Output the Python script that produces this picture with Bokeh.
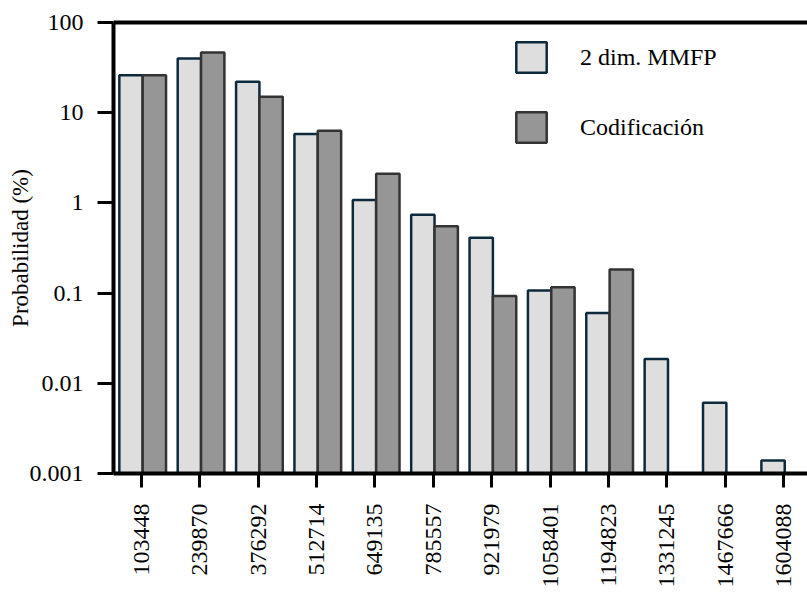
import math
from bokeh.plotting import figure
from bokeh.models import (ColumnDataSource, FixedTicker, NumeralTickFormatter, Range1d,
                          LinearAxis, Legend, LegendItem)
from bokeh.embed import file_html
from bokeh.resources import INLINE

categories = ["103448", "239870", "376292", "512714", "649135", "785557",
              "921979", "1058401", "1194823", "1331245", "1467666", "1604088"]
mmfp = [26, 40, 22, 5.8, 1.08, 0.74, 0.41, 0.107, 0.060, 0.0186, 0.0061, 0.00139]
codif = [26, 46.5, 15, 6.3, 2.1, 0.55, 0.093, 0.116, 0.183, float("nan"), float("nan"), float("nan")]
y_ticks = [0.001, 0.01, 0.1, 1, 10, 100]
series_names = ["2 dim. MMFP", "Codificación"]

FONT = "Liberation Serif"
idx = list(range(len(categories)))

src = ColumnDataSource(dict(
    xl=[i - 0.18 for i in idx],
    xd=[i + 0.22 for i in idx],
    mmfp=mmfp,
    codif=codif,
    base=[y_ticks[0]] * len(idx),
))

p = figure(width=807, height=598, y_axis_type="log",
           x_range=Range1d(-0.48, 11.41), y_range=Range1d(y_ticks[0], y_ticks[-1]),
           output_backend="svg", toolbar_location=None,
           min_border_left=113, min_border_right=0, min_border_top=22, min_border_bottom=125)
p.outline_line_color = None
p.xgrid.grid_line_color = None
p.ygrid.grid_line_color = None
p.background_fill_color = "white"

r1 = p.vbar(x="xl", width=0.40, top="mmfp", bottom="base", source=src,
            fill_color="#dedede", line_color="#0d2a3c", line_width=2.5)
r2 = p.vbar(x="xd", width=0.40, top="codif", bottom="base", source=src,
            fill_color="#969696", line_color="#333333", line_width=2.5)

# y axis
ya = p.yaxis[0]
ya.ticker = FixedTicker(ticks=y_ticks, minor_ticks=[])
ya.formatter = NumeralTickFormatter(format="0.[000]")
ya.axis_line_width = 4
ya.axis_line_color = "black"
ya.major_tick_out = 16
ya.major_tick_in = 0
ya.major_tick_line_width = 3
ya.minor_tick_line_color = None
ya.major_label_standoff = 14
ya.major_label_text_font = FONT
ya.major_label_text_font_size = "24px"
ya.major_label_text_color = "black"
ya.axis_label = "Probabilidad (%)"
ya.axis_label_text_font = FONT
ya.axis_label_text_font_size = "23px"
ya.axis_label_text_font_style = "normal"
ya.axis_label_text_color = "black"
ya.axis_label_standoff = -6

# x axis
xa = p.xaxis[0]
xa.ticker = FixedTicker(ticks=idx)
xa.major_label_overrides = {i: c for i, c in zip(idx, categories)}
xa.major_label_orientation = math.pi / 2
xa.axis_line_width = 4
xa.axis_line_color = "black"
xa.major_tick_out = 14
xa.major_tick_in = 0
xa.major_tick_line_width = 3
xa.minor_tick_line_color = None
xa.major_label_standoff = 16
xa.major_label_text_font = FONT
xa.major_label_text_font_size = "24px"
xa.major_label_text_color = "black"

# top border line
top = LinearAxis(ticker=FixedTicker(ticks=[]), axis_line_width=4, axis_line_color="black",
                 major_tick_line_color=None, minor_tick_line_color=None,
                 major_label_text_font_size="0px")
p.add_layout(top, "above")

legend = Legend(items=[LegendItem(label=series_names[0], renderers=[r1]),
                       LegendItem(label=series_names[1], renderers=[r2])],
                location=(399, 327), orientation="vertical",
                glyph_width=38, glyph_height=38, spacing=32, padding=0, margin=0,
                label_standoff=30, label_text_font=FONT, label_text_font_size="24px",
                label_text_color="black", border_line_color=None,
                background_fill_alpha=0)
p.add_layout(legend, "center")

open("out.html", "w").write(file_html(p, INLINE))
